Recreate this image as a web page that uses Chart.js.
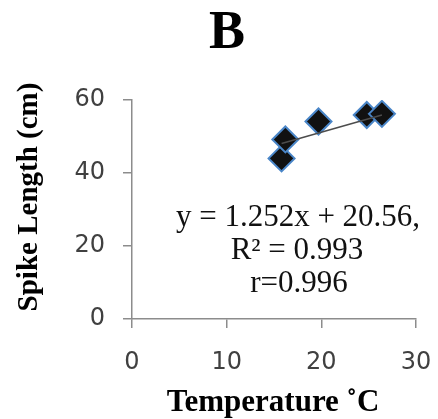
<!DOCTYPE html>
<html>
<head>
<meta charset="utf-8">
<script src="https://cdn.jsdelivr.net/npm/chart.js@4/dist/chart.umd.min.js"></script>
<style>
  html, body { margin: 0; padding: 0; background: #fff; }
  #wrap { width: 438px; height: 419px; }
</style>
</head>
<body>
<div id="wrap"><canvas id="spike"></canvas></div>
<script>
// temperature (x) and spike length (y)
var tempC = [15.8, 16.2, 19.7, 24.8, 26.4]
var spikeLength = [44.0, 49.2, 54.1, 55.9, 56.2]
// fitted line as drawn
var trendX = [15.8, 26.4]
var trendY = [48.1, 55.9]
var xTicks = [0, 10, 20, 30]
var yTicks = [0, 20, 40, 60]
var eqLines = ["y = 1.252x + 20.56,", "R\u00b2 = 0.993", "r=0.996"]

var axisGray = "#8c8c8c"
var serif = "'Liberation Serif', 'DejaVu Serif', serif"

var textPlugin = {
  id: 'texts',
  afterDraw: function(chart) {
    var c = chart.ctx
    c.save()
    c.fillStyle = "#000"
    c.textAlign = "center"
    c.textBaseline = "middle"
    // panel letter
    c.font = "bold 54px " + serif
    c.fillText("B", 227, 34)
    // y axis title
    c.save()
    c.translate(30, 197)
    c.rotate(-Math.PI / 2)
    c.font = "bold 29px " + serif
    c.fillText("Spike Length (cm)", 0, 0)
    c.restore()
    // x axis title
    c.font = "bold 31px " + serif
    c.fillText("Temperature \u02daC", 273, 403)
    // regression text
    c.font = "31px " + serif
    c.fillStyle = "#111"
    c.fillText(eqLines[0], 298, 218)
    c.fillText(eqLines[1], 297, 251)
    c.fillText(eqLines[2], 299, 284)
    c.restore()
  }
}

var ctx = document.getElementById("spike").getContext('2d')
var chart = new Chart(ctx, {
  type: 'scatter',
  data: {
    datasets: [{
      label: 'Spike length',
      data: tempC.map(function(t, i) { return { x: t, y: spikeLength[i] } }),
      pointStyle: 'rectRot',
      pointRadius: 13,
      pointHoverRadius: 13,
      backgroundColor: "#111111",
      borderColor: "#4a86c8",
      borderWidth: 2,
      order: 1
    }, {
      label: 'Linear',
      type: 'line',
      data: trendX.map(function(t, i) { return { x: t, y: trendY[i] } }),
      borderColor: "#4d4d4d",
      borderWidth: 1.5,
      pointRadius: 0,
      fill: false,
      order: 0
    }]
  },
  options: {
    responsive: true,
    maintainAspectRatio: false,
    animation: false,
    layout: { padding: { left: 0, right: 22, top: 100, bottom: 0 } },
    plugins: {
      legend: { display: false },
      tooltip: { enabled: false }
    },
    scales: {
      x: {
        type: 'linear',
        min: 0,
        max: 30,
        afterBuildTicks: function(axis) { axis.ticks = xTicks.map(function(v) { return { value: v } }) },
        afterFit: function(axis) {
          axis.height = 100
          axis.paddingLeft = 0
          axis.paddingRight = 0
        },
        grid: { drawOnChartArea: false, drawTicks: true, tickLength: 9, color: axisGray, lineWidth: 1.5 },
        border: { color: axisGray, width: 1.5 },
        ticks: { color: "#404040", padding: 20, font: { family: "'DejaVu Sans'", size: 24 } }
      },
      y: {
        type: 'linear',
        min: 0,
        max: 60,
        afterBuildTicks: function(axis) { axis.ticks = yTicks.map(function(v) { return { value: v } }) },
        afterFit: function(axis) {
          axis.width = 132
          axis.paddingTop = 0
          axis.paddingBottom = 0
        },
        grid: { drawOnChartArea: false, drawTicks: true, tickLength: 9, color: axisGray, lineWidth: 1.5 },
        border: { color: axisGray, width: 1.5 },
        ticks: { color: "#404040", padding: 18, font: { family: "'DejaVu Sans'", size: 24 } }
      }
    }
  },
  plugins: [textPlugin]
})
</script>
</body>
</html>
